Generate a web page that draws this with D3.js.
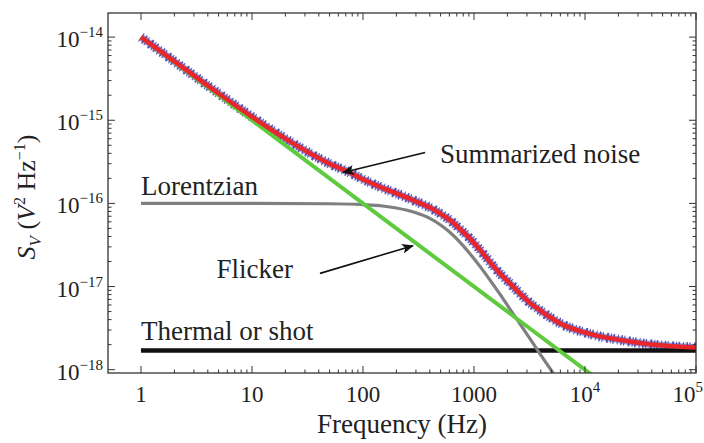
<!DOCTYPE html>
<html><head><meta charset="utf-8">
<script src="https://cdn.jsdelivr.net/npm/d3@7"></script>
<style>
html,body{margin:0;padding:0;background:#fff;}
svg{display:block;}
</style></head>
<body><svg id="c" width="704" height="443"></svg>
<script>
// ---- data ----
const xTickValues = [1, 10, 100, 1000, 1e4, 1e5];
const xTickLabels = [["1",""],["10",""],["100",""],["1000",""],["10","4"],["10","5"]];
const yTickValues = [1e-14, 1e-15, 1e-16, 1e-17, 1e-18];
const yTickExponents = ["\u221214","\u221215","\u221216","\u221217","\u221218"];

// summarized noise (red fit, with the measured data around it)
const sumFreq  = [1, 2, 5, 10, 20, 50, 76, 100, 142, 200, 280, 400, 500, 606, 750, 916, 1150, 1380, 1700, 2100, 2600, 3170, 4000, 4800, 6000, 7300, 10000, 13000, 20000, 27000, 50000, 100000];
const sumValue = [1.0e-14, 5.1e-15, 2.1e-15, 1.1e-15, 6.0e-16, 3.0e-16, 2.35e-16, 1.95e-16, 1.58e-16, 1.32e-16, 1.1e-16, 8.9e-17, 7.5e-17, 6.3e-17, 4.9e-17, 3.8e-17, 2.7e-17, 2.0e-17, 1.45e-17, 1.1e-17, 8.2e-18, 6.4e-18, 5.1e-18, 4.3e-18, 3.6e-18, 3.2e-18, 2.8e-18, 2.55e-18, 2.3e-18, 2.15e-18, 1.95e-18, 1.85e-18];

// Lorentzian component
const lorFreq  = [1, 10, 50, 100, 150, 200, 300, 400, 500, 606, 750, 916, 1150, 1380, 1700, 2100, 3170, 4000, 4800, 6000];
const lorValue = [1.0e-16, 1.0e-16, 0.99e-16, 0.965e-16, 0.93e-16, 0.88e-16, 0.77e-16, 0.66e-16, 0.55e-16, 0.45e-16, 0.34e-16, 0.25e-16, 0.17e-16, 1.22e-17, 8.2e-18, 5.4e-18, 2.4e-18, 1.5e-18, 1.05e-18, 0.68e-18];

// Flicker component (1/f)
const flickerFreq  = [1, 12000];
const flickerValue = [1.0e-14, 8.3e-19];

// Thermal or shot
const thermalFreq  = [1, 1e5];
const thermalValue = [1.7e-18, 1.7e-18];

// annotation anchors (data coordinates)
const labelText  = ["Summarized noise", "Lorentzian", "Flicker", "Thermal or shot"];
const labelFreq  = [494, 1.0, 4.8, 1.0];
const labelValue = [3.1e-16, 1.26e-16, 1.26e-17, 2.3e-18];
const arrowFrom  = [[363, 4.1e-16], [41, 1.44e-17]];
const arrowTo    = [[66, 2.35e-16], [282, 3.1e-17]];

// ---- drawing ----
const W = 704;
const FONT = "'Liberation Serif', 'Times New Roman', Times, 'DejaVu Serif', 'Noto Serif', serif";
const svg = d3.select("#c").attr("font-family", FONT);
const x = d3.scaleLog().domain([Math.pow(10,-0.297), 1e5]).range([108, 696]);
const y = d3.scaleLog().domain([Math.pow(10,-18.04), Math.pow(10,-13.71)]).range([373, 13]);
const [x0,x1] = x.range(), [y0,y1] = [y.range()[1], y.range()[0]];

const defs = svg.append("defs");
defs.append("clipPath").attr("id","clip")
  .append("rect").attr("x",x0).attr("y",y0).attr("width",x1-x0).attr("height",y1-y0);
defs.append("marker").attr("id","ah").attr("viewBox","0 0 12 10").attr("refX",11).attr("refY",5)
  .attr("markerWidth",12).attr("markerHeight",10).attr("markerUnits","userSpaceOnUse").attr("orient","auto")
  .append("path").attr("d","M0,0 L12,5 L0,10 L3,5 Z").attr("fill","#111");

const plot = svg.append("g").attr("clip-path","url(#clip)");
const line = d3.line().x(d=>x(d[0])).y(d=>y(d[1])).curve(d3.curveMonotoneX);
const zip = (a,b)=>a.map((v,i)=>[v,b[i]]);

// measured data (blue fuzzy band)
plot.append("path").datum(zip(sumFreq,sumValue)).attr("d",line)
  .attr("fill","none").attr("stroke","#7070c8").attr("stroke-width",7).attr("stroke-opacity",0.7);
plot.append("path").datum(zip(sumFreq,sumValue)).attr("d",line)
  .attr("fill","none").attr("stroke","#3a3aa6").attr("stroke-width",10).attr("stroke-opacity",0.85)
  .attr("stroke-dasharray","1 2.5 1.5 1.5 1 3.5 2 2 1 1.5 1.5 3");
// thermal
plot.append("path").datum(zip(thermalFreq,thermalValue)).attr("d",line)
  .attr("fill","none").attr("stroke","#111").attr("stroke-width",4.5);
// lorentzian
plot.append("path").datum(zip(lorFreq,lorValue)).attr("d",line)
  .attr("fill","none").attr("stroke","#7f7f7f").attr("stroke-width",3.2);
// flicker
plot.append("path").datum(zip(flickerFreq,flickerValue)).attr("d",line)
  .attr("fill","none").attr("stroke","#5ecb3c").attr("stroke-width",4);
// summarized fit
plot.append("path").datum(zip(sumFreq,sumValue)).attr("d",line)
  .attr("fill","none").attr("stroke","#e8262b").attr("stroke-width",4.5);

// frame
svg.append("rect").attr("x",x0).attr("y",y0).attr("width",x1-x0).attr("height",y1-y0)
  .attr("fill","none").attr("stroke","#333").attr("stroke-width",1.3);

// ticks (inward, all four sides)
const tk = svg.append("g").attr("stroke","#333").attr("stroke-width",1);
const xMinor = [], yMinor = [];
for (let e=0;e<5;e++) for (let m=2;m<=9;m++) xMinor.push(m*Math.pow(10,e));
for (let e=-18;e<-14;e++) for (let m=2;m<=9;m++) yMinor.push(m*Math.pow(10,e));
xTickValues.forEach(v=>{const px=x(v); tk.append("line").attr("x1",px).attr("x2",px).attr("y1",y1).attr("y2",y1-7);
  tk.append("line").attr("x1",px).attr("x2",px).attr("y1",y0).attr("y2",y0+7);});
xMinor.forEach(v=>{const px=x(v); tk.append("line").attr("x1",px).attr("x2",px).attr("y1",y1).attr("y2",y1-3.5);
  tk.append("line").attr("x1",px).attr("x2",px).attr("y1",y0).attr("y2",y0+3.5);});
yTickValues.forEach(v=>{const py=y(v); tk.append("line").attr("x1",x0).attr("x2",x0+7).attr("y1",py).attr("y2",py);
  tk.append("line").attr("x1",x1).attr("x2",x1-7).attr("y1",py).attr("y2",py);});
yMinor.forEach(v=>{const py=y(v); tk.append("line").attr("x1",x0).attr("x2",x0+3.5).attr("y1",py).attr("y2",py);
  tk.append("line").attr("x1",x1).attr("x2",x1-3.5).attr("y1",py).attr("y2",py);});

// x tick labels
xTickValues.forEach((v,i)=>{
  const t = svg.append("text").attr("font-family",FONT).attr("x",x(v)).attr("y",y1+29).attr("text-anchor","middle")
    .attr("font-size",23).attr("fill","#222");
  t.append("tspan").text(xTickLabels[i][0]);
  if (xTickLabels[i][1]) t.append("tspan").attr("dy",-10).attr("font-size",15).text(xTickLabels[i][1]);
  const bb = t.node().getBBox();
  if (bb.x + bb.width > W - 1) t.attr("text-anchor","end").attr("x", W - 1);
});
// y tick labels
yTickValues.forEach((v,i)=>{
  const t = svg.append("text").attr("font-family",FONT).attr("x",x0-5).attr("y",y(v)+10).attr("text-anchor","end")
    .attr("font-size",23).attr("fill","#222");
  t.append("tspan").text("10");
  t.append("tspan").attr("dy",-10).attr("font-size",15).text(yTickExponents[i]);
});

// axis titles
svg.append("text").attr("font-family",FONT).attr("x",(x0+x1)/2).attr("y",433).attr("text-anchor","middle")
  .attr("font-size",27).attr("fill","#222").text("Frequency (Hz)");
const yt = svg.append("text").attr("font-family",FONT).attr("transform","translate(35,197) rotate(-90)")
  .attr("text-anchor","middle").attr("font-size",26).attr("fill","#222");
yt.append("tspan").attr("font-style","italic").text("S");
yt.append("tspan").attr("font-style","italic").attr("font-size",17).attr("dy",6).text("V");
yt.append("tspan").attr("dy",-6).text(" (");
yt.append("tspan").attr("font-style","italic").text("V");
yt.append("tspan").attr("font-size",16).attr("dy",-10).text("2");
yt.append("tspan").attr("dy",10).text(" Hz");
yt.append("tspan").attr("font-size",16).attr("dy",-10).text("\u22121");
yt.append("tspan").attr("dy",10).text(")");

// annotation labels
labelText.forEach((s,i)=>{
  svg.append("text").attr("font-family",FONT).attr("x",x(labelFreq[i])).attr("y",y(labelValue[i]))
    .attr("font-size",27).attr("fill","#222").text(s);
});
arrowFrom.forEach((a,i)=>{
  svg.append("line").attr("x1",x(a[0])).attr("y1",y(a[1]))
    .attr("x2",x(arrowTo[i][0])).attr("y2",y(arrowTo[i][1]))
    .attr("stroke","#111").attr("stroke-width",1.6).attr("marker-end","url(#ah)");
});
</script></body></html>
